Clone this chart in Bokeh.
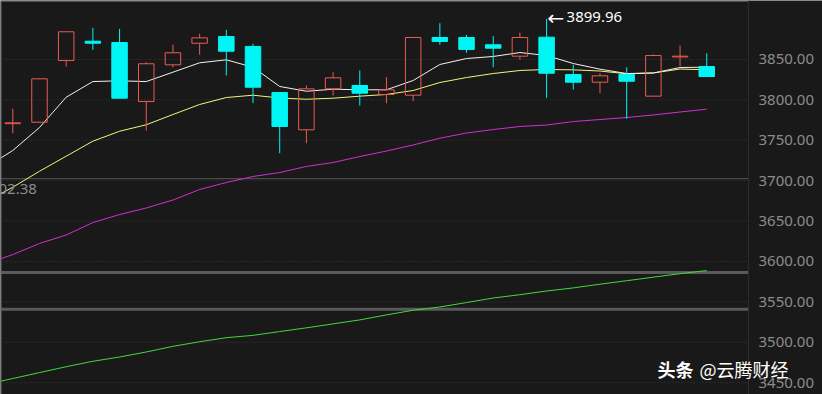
from bokeh.plotting import figure
from bokeh.models import (Range1d, LinearAxis, FixedTicker, Span, Label, Grid,
                          ColumnDataSource, PrintfTickFormatter)
from bokeh.embed import file_html
from bokeh.resources import INLINE

# ---------------- data ----------------
idx = list(range(27))
opens  = [3770.5, 3772.3, 3848.6, 3872.5, 3870.9, 3797.9, 3843.3, 3870.0, 3878.3, 3866.0,
          3809.0, 3762.9, 3813.6, 3817.7, 3806.6, 3805.7, 3877.1, 3877.1, 3868.1, 3854.0,
          3877.5, 3831.3, 3821.8, 3831.3, 3804.5, 3853.0, 3841.2]
highs  = [3788.9, 3826.5, 3884.5, 3889.1, 3887.9, 3846.5, 3868.4, 3881.7, 3886.6, 3869.3,
          3809.5, 3817.7, 3834.2, 3836.3, 3828.0, 3877.5, 3894.8, 3880.4, 3878.7, 3883.3,
          3899.96, 3843.3, 3832.9, 3840.3, 3856.1, 3867.2, 3857.7]
lows   = [3758.7, 3772.0, 3841.2, 3861.9, 3801.5, 3762.0, 3840.3, 3855.7, 3830.1, 3795.8,
          3733.9, 3746.3, 3805.3, 3792.9, 3795.8, 3798.3, 3868.1, 3858.2, 3840.3, 3849.5,
          3802.5, 3812.7, 3808.2, 3776.5, 3804.0, 3841.6, 3828.5]
closes = [3771.5, 3826.0, 3884.2, 3870.0, 3802.0, 3844.6, 3858.2, 3876.7, 3860.1, 3815.6,
          3767.0, 3813.6, 3827.2, 3808.2, 3812.4, 3877.1, 3872.2, 3862.3, 3863.9, 3877.1,
          3832.9, 3821.8, 3829.7, 3823.0, 3854.8, 3854.0, 3828.8]

ma_x = list(range(-1, 27))
ma_white = [3716.5, 3737.3, 3765.7, 3803.2, 3822.6, 3823.5, 3822.6, 3834.2, 3845.8, 3849.5,
            3840.3, 3816.5, 3810.6, 3813.1, 3812.4, 3812.4, 3823.9, 3843.7, 3851.1, 3853.6,
            3858.5, 3854.8, 3844.9, 3837.9, 3832.5, 3833.2, 3840.0, 3840.3]
ma_yellow = [3674.1, 3691.8, 3711.6, 3730.2, 3748.8, 3761.1, 3769.1, 3781.8, 3794.2, 3802.8,
             3805.7, 3802.2, 3800.7, 3802.0, 3804.5, 3806.6, 3811.5, 3821.4, 3827.6, 3832.5,
             3836.3, 3837.5, 3837.1, 3835.6, 3832.2, 3833.2, 3838.1, 3837.1]
ma_magenta = [3597.0, 3608.5, 3622.2, 3632.7, 3648.1, 3658.0, 3666.1, 3676.0, 3689.0, 3697.7,
              3705.1, 3710.0, 3717.5, 3722.4, 3729.8, 3736.6, 3744.1, 3752.5, 3758.9, 3763.2,
              3767.0, 3768.8, 3773.1, 3775.6, 3778.1, 3781.2, 3784.9, 3788.4]
ma_green = [3447.8, 3455.1, 3462.4, 3469.7, 3476.4, 3481.7, 3487.9, 3494.9, 3500.6, 3505.6,
            3508.5, 3513.2, 3517.8, 3522.7, 3527.6, 3533.8, 3539.6, 3543.6, 3549.1, 3554.7,
            3558.8, 3563.4, 3567.2, 3571.8, 3576.1, 3580.5, 3584.8, 3588.7]

price_line_thin = [3702.38]
price_lines_thick = [3586.3, 3540.8]
y_ticks = [3450, 3500, 3550, 3600, 3650, 3700, 3750, 3800, 3850]
peak_index = 20
peak_value = 3899.96
peak_arrow = "←"
peak_text = "3899.96"
cut_label_text = "02.38"
watermark_a = "头条"
watermark_b = "@云腾财经"

# ---------------- style / geometry ----------------
BG = "#191919"
RED = "#ee5a52"
CYAN = "#00f5f5"
PX_PER_BAR = 26.69
Y0, Y1 = 3435.3, 3922.9
X0 = -0.461
X_SEP = X0 + 748 / PX_PER_BAR      # right edge of the price area
X1 = X0 + 822 / PX_PER_BAR

p = figure(frame_width=822, frame_height=394,
           min_border_left=0, min_border_top=0, min_border_bottom=0, min_border_right=0,
           x_range=Range1d(X0, X1), y_range=Range1d(Y0, Y1),
           x_axis_location=None, y_axis_location=None,
           output_backend="svg", toolbar_location=None,
           background_fill_color=BG, border_fill_color=BG, outline_line_color=None)
p.center = [r for r in p.center if not isinstance(r, Grid)]

yaxis = LinearAxis(ticker=FixedTicker(ticks=y_ticks),
                   formatter=PrintfTickFormatter(format="%.2f"),
                   fixed_location=X_SEP)
yaxis.major_tick_line_color = None
yaxis.minor_tick_line_color = None
yaxis.major_tick_out = 0
yaxis.major_tick_in = 0
yaxis.minor_tick_out = 0
yaxis.axis_line_color = "#2c2c2c"
yaxis.major_label_text_color = "#8c8c8c"
yaxis.major_label_text_font = "Noto Sans"
yaxis.major_label_text_font_size = "15px"
yaxis.major_label_standoff = 10
p.add_layout(yaxis, "right")

n = len(y_ticks)
# dotted grid inside the price area only
p.segment(x0=[X0] * n, y0=y_ticks, x1=[X_SEP] * n, y1=y_ticks,
          line_color="#3a3a3a", line_dash="1 2", line_width=1)

p.segment(x0=[X0] * len(price_line_thin), y0=price_line_thin,
          x1=[X_SEP] * len(price_line_thin), y1=price_line_thin,
          line_color="#585858", line_width=1)
p.segment(x0=[X0] * len(price_lines_thick), y0=price_lines_thick,
          x1=[X_SEP] * len(price_lines_thick), y1=price_lines_thick,
          line_color="#5a5a5a", line_width=3)

# borders of the price area
p.segment(x0=[X0], y0=[Y1], x1=[X_SEP], y1=[Y1], line_color="#8a8a8a", line_width=2)
p.add_layout(Span(location=X0, dimension="height", line_color="#707070", line_width=2))

# moving averages
p.line(ma_x, ma_green, line_color="#3fd83f", line_width=1)
p.line(ma_x, ma_magenta, line_color="#d12fd1", line_width=1)
p.line(ma_x, ma_yellow, line_color="#f5f57a", line_width=1)
p.line(ma_x, ma_white, line_color="#f2f2f2", line_width=1)

# candles
tops = [max(o, c) for o, c in zip(opens, closes)]
bots = [min(o, c) for o, c in zip(opens, closes)]
up = [c >= o for o, c in zip(opens, closes)]

def sub(mask):
    return ColumnDataSource(dict(
        x=[i for i, m in zip(idx, up) if m == mask],
        h=[v for v, m in zip(highs, up) if m == mask],
        l=[v for v, m in zip(lows, up) if m == mask],
        t=[v for v, m in zip(tops, up) if m == mask],
        b=[v for v, m in zip(bots, up) if m == mask],
    ))

src_up = sub(True)
src_dn = sub(False)

p.segment(x0="x", y0="h", x1="x", y1="t", source=src_up, line_color=RED, line_width=1)
p.segment(x0="x", y0="b", x1="x", y1="l", source=src_up, line_color=RED, line_width=1)
p.vbar(x="x", width=0.58, top="t", bottom="b", source=src_up,
       fill_color=None, line_color=RED, line_width=1)

p.segment(x0="x", y0="h", x1="x", y1="l", source=src_dn, line_color=CYAN, line_width=1)
p.vbar(x="x", width=0.58, top="t", bottom="b", source=src_dn,
       fill_color=CYAN, line_color=CYAN, line_width=1)

# annotations
p.add_layout(Label(x=peak_index, y=peak_value, x_offset=1, y_offset=1, text=peak_arrow,
                   text_color="#ffffff", text_font="DejaVu Sans", text_font_size="20px",
                   text_baseline="middle", text_align="left"))
p.add_layout(Label(x=peak_index, y=peak_value, x_offset=20, y_offset=2, text=peak_text,
                   text_color="#ffffff", text_font="Noto Sans", text_font_size="15px",
                   text_baseline="middle", text_align="left"))
p.add_layout(Label(x=X0, y=3690.2, x_offset=-2, text=cut_label_text,
                   text_color="#8c8c8c", text_font="Noto Sans", text_font_size="15px",
                   text_baseline="middle", text_align="left"))
p.add_layout(Label(x=657, y=26, x_units="screen", y_units="screen", text=watermark_a,
                   text_color="#ffffff", text_font="Noto Sans CJK SC", text_font_style="bold",
                   text_font_size="18px", text_baseline="middle", text_align="left"))
p.add_layout(Label(x=699, y=26, x_units="screen", y_units="screen", text=watermark_b,
                   text_color="#ffffff", text_font="Noto Sans CJK SC",
                   text_font_size="18px", text_baseline="middle", text_align="left"))

open("out.html", "w").write(file_html(p, INLINE))
